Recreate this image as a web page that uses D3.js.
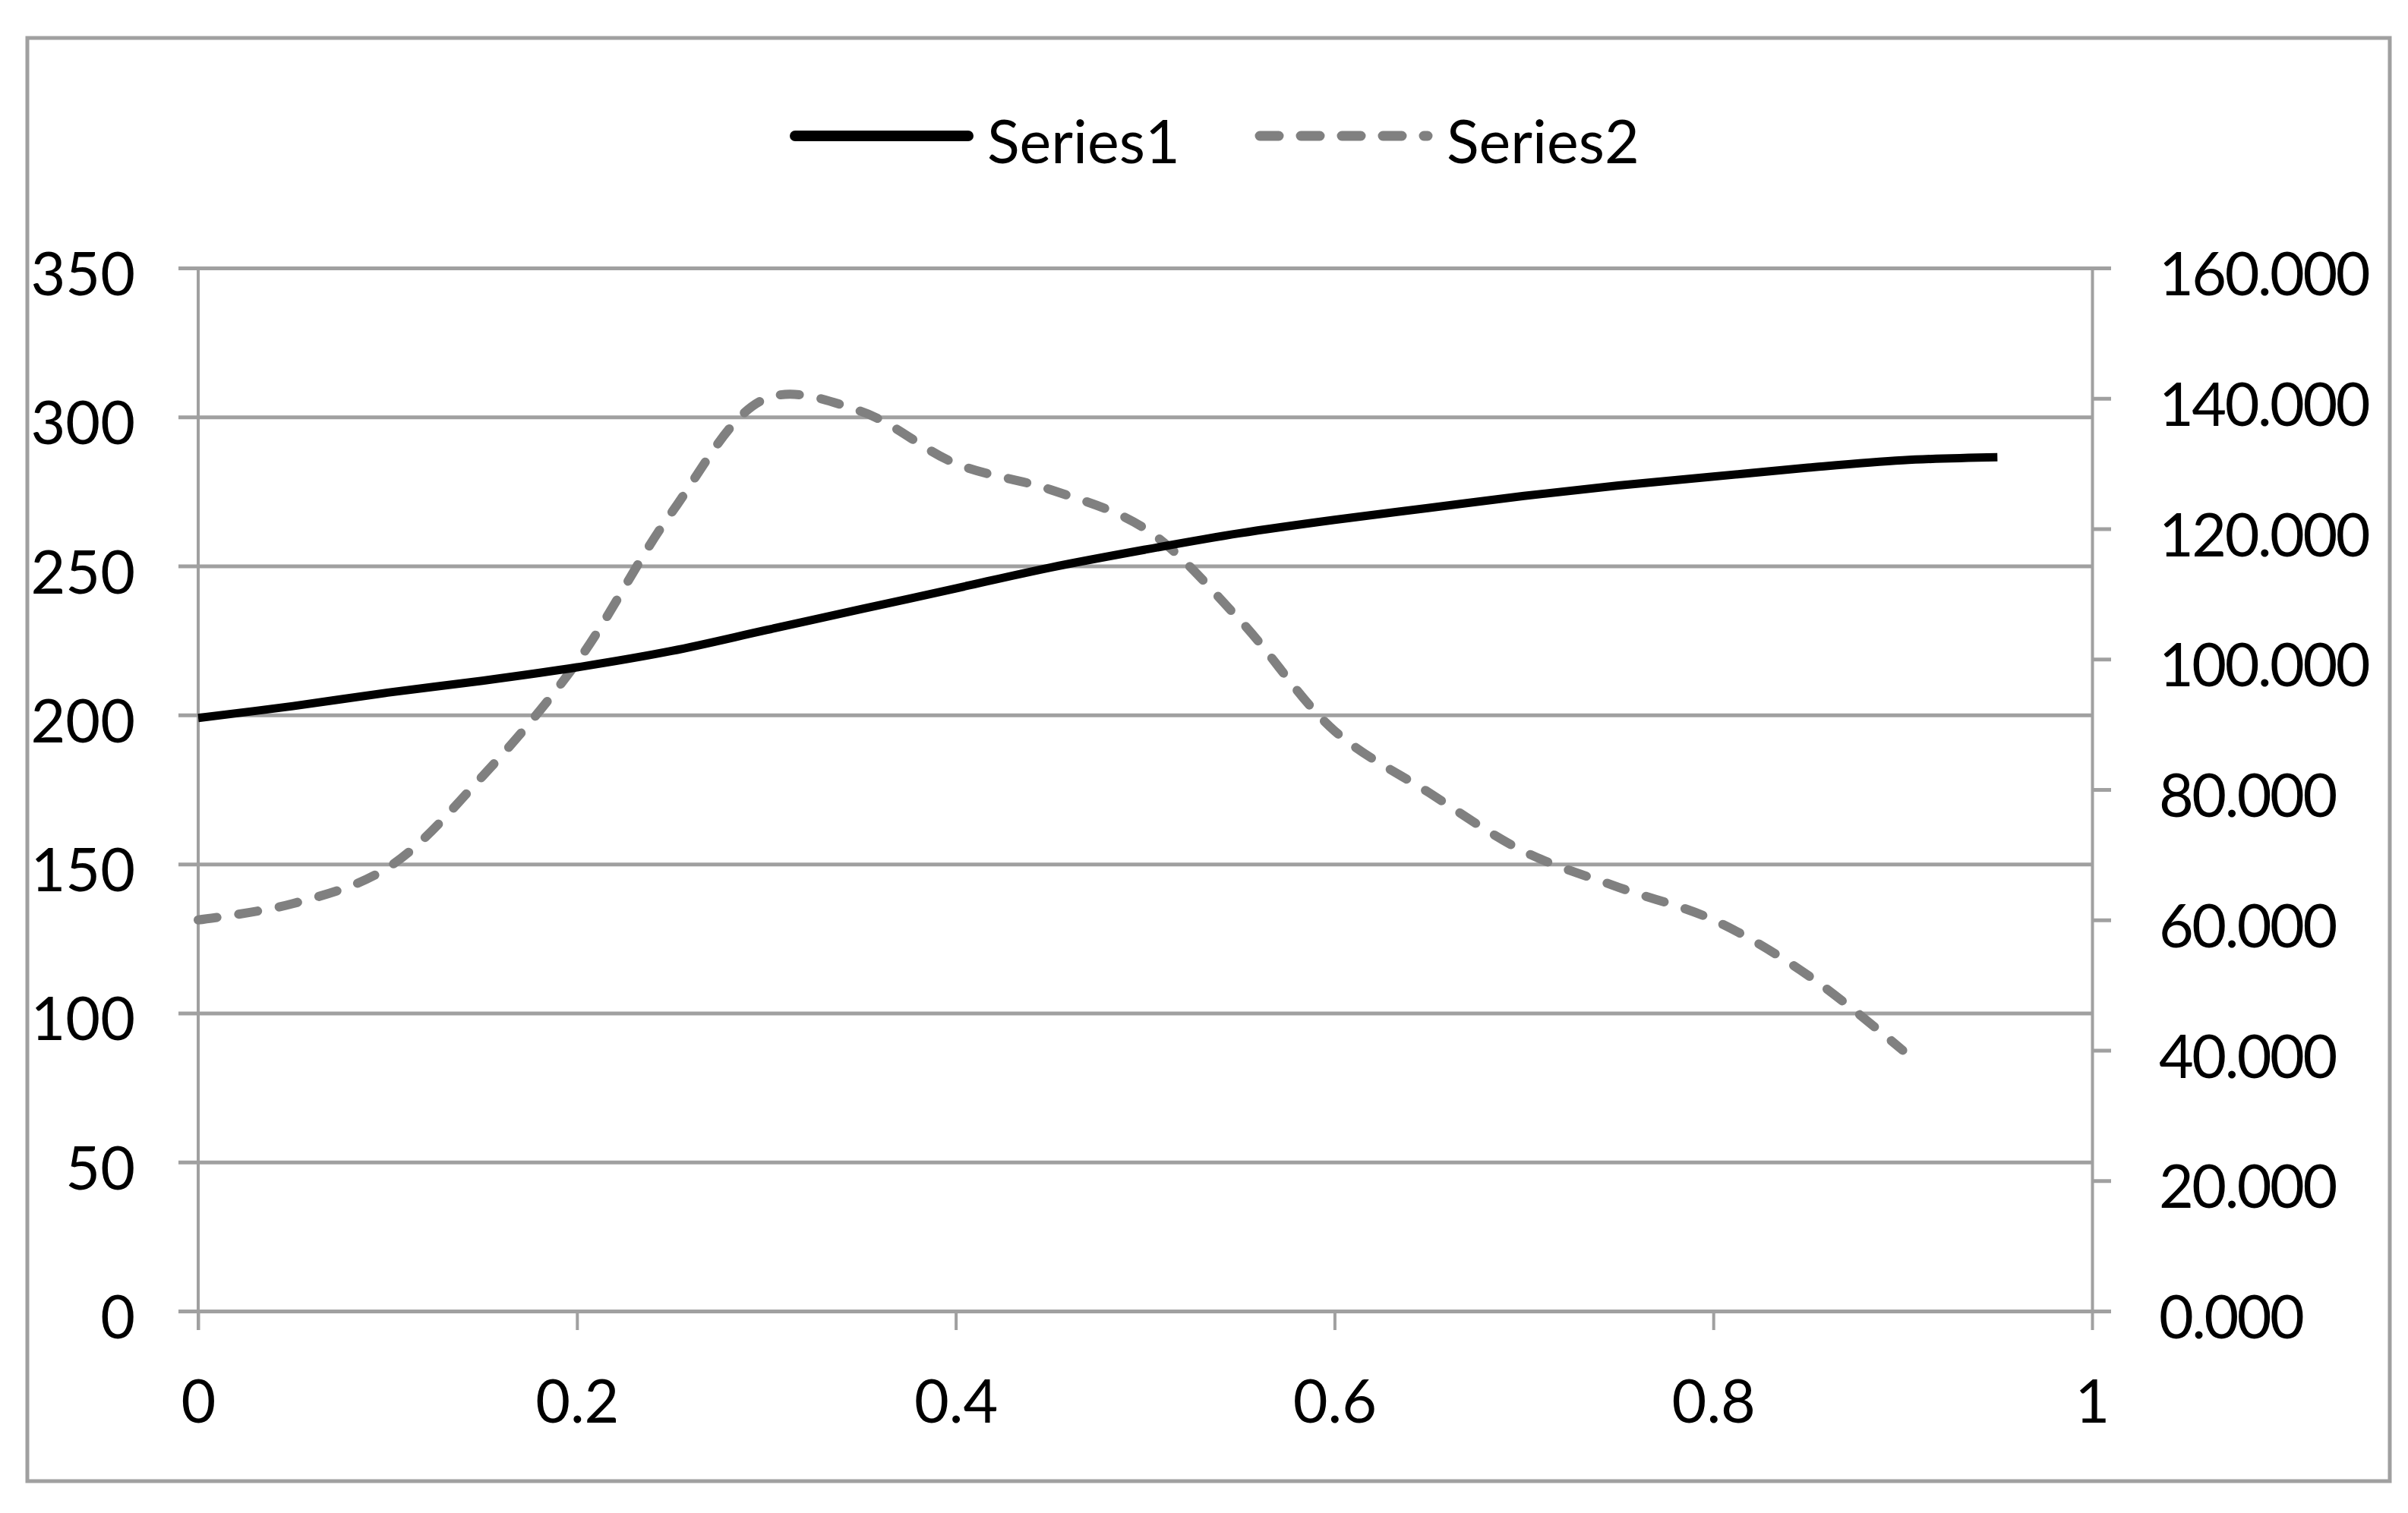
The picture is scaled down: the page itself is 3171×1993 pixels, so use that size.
<!DOCTYPE html>
<html>
<head>
<meta charset="utf-8">
<script src="https://cdn.jsdelivr.net/npm/d3@7"></script>
<style>
  body { margin: 0; background: #fff; }
  text { font-family: Lato, "Open Sans", sans-serif; fill: #000; }
</style>
</head>
<body>
<div id="chart"></div>
<script>
// Data
var xValues1 = [0, 0.05, 0.1, 0.15, 0.2, 0.25, 0.3, 0.35, 0.4, 0.45, 0.5, 0.55, 0.6, 0.65, 0.7, 0.75, 0.8, 0.85, 0.9, 0.95];
var series1 = [199, 203, 207.5, 211.5, 216, 221.5, 228.5, 235.5, 242.5, 249.5, 255.5, 261, 265.5, 269.5, 273.5, 277, 280, 283, 285.5, 286.5];
var xValues2 = [0, 0.05, 0.1, 0.15, 0.2, 0.25, 0.3, 0.35, 0.4, 0.45, 0.5, 0.55, 0.6, 0.65, 0.7, 0.75, 0.8, 0.85, 0.9];
var series2 = [60, 62.5, 68, 82, 99.5, 122.5, 140, 138, 130, 126, 120, 106, 89, 79.5, 70.5, 65, 60, 51.5, 40];
var seriesNames = ["Series1", "Series2"];
var leftTicks = [0, 50, 100, 150, 200, 250, 300, 350];
var rightTicks = [0, 20, 40, 60, 80, 100, 120, 140, 160];
var xTicks = [0, 0.2, 0.4, 0.6, 0.8, 1];

var width = 3171, height = 1993;
var margin = {left: 261, right: 3171 - 2755, top: 353, bottom: 1993 - 1727};
var gridColor = "#a0a0a0";
var fontSize = 79;

var svg = d3.select("#chart").append("svg")
    .attr("width", width)
    .attr("height", height);

// outer frame
svg.append("rect")
    .attr("x", 36).attr("y", 50)
    .attr("width", 3147 - 36).attr("height", 1951 - 50)
    .attr("fill", "#fff")
    .attr("stroke", gridColor)
    .attr("stroke-width", 5);

var x = d3.scaleLinear().domain([0, 1]).range([margin.left, width - margin.right]);
var yLeft = d3.scaleLinear().domain([0, 350]).range([height - margin.bottom, margin.top]);
var yRight = d3.scaleLinear().domain([0, 160]).range([height - margin.bottom, margin.top]);

// gridlines (extend outward as the left ticks)
svg.append("g")
    .attr("transform", "translate(" + margin.left + ",0)")
    .call(d3.axisLeft(yLeft).tickValues(leftTicks)
        .tickSize(-(x(1) - x(0)))
        .tickSizeOuter(0)
        .tickFormat(""))
    .call(function(g) {
        g.select(".domain").remove();
        g.selectAll(".tick line")
            .attr("x1", -26)
            .attr("stroke", gridColor)
            .attr("stroke-width", 5);
    });

// left axis
var leftAxis = svg.append("g")
    .attr("transform", "translate(" + margin.left + ",0)")
    .call(d3.axisLeft(yLeft).tickValues(leftTicks).tickSize(0).tickPadding(83));
leftAxis.select(".domain").remove();
leftAxis.selectAll("text")
    .attr("font-size", fontSize)
    .attr("dy", "0.45em");

svg.append("line")
    .attr("x1", x(0)).attr("x2", x(0))
    .attr("y1", yLeft(350)).attr("y2", yLeft(0) + 25)
    .attr("stroke", gridColor)
    .attr("stroke-width", 4);

// right axis
var rightAxis = svg.append("g")
    .attr("transform", "translate(" + x(1) + ",0)")
    .call(d3.axisRight(yRight).tickValues(rightTicks)
        .tickSize(25).tickSizeOuter(0).tickPadding(63)
        .tickFormat(d3.format(".3f")));
rightAxis.select(".domain")
    .attr("stroke", gridColor)
    .attr("stroke-width", 4);
rightAxis.selectAll(".tick line")
    .attr("stroke", gridColor)
    .attr("stroke-width", 5);
rightAxis.selectAll("text")
    .attr("font-size", fontSize)
    .attr("letter-spacing", -2.5)
    .attr("dy", "0.45em");

// bottom axis
var bottomAxis = svg.append("g")
    .attr("transform", "translate(0," + yLeft(0) + ")")
    .call(d3.axisBottom(x).tickValues(xTicks)
        .tickSize(25).tickSizeOuter(0).tickPadding(66)
        .tickFormat(d3.format("")));
bottomAxis.select(".domain").remove();
bottomAxis.selectAll(".tick line")
    .attr("stroke", gridColor)
    .attr("stroke-width", 4);
bottomAxis.selectAll("text")
    .attr("font-size", fontSize);

// lines
var line1 = d3.line()
    .x(function(d, i) { return x(xValues1[i]); })
    .y(function(d) { return yLeft(d); })
    .curve(d3.curveCatmullRom);
var line2 = d3.line()
    .x(function(d, i) { return x(xValues2[i]); })
    .y(function(d) { return yRight(d); })
    .curve(d3.curveCatmullRom);

svg.append("path")
    .datum(series2)
    .attr("d", line2)
    .attr("fill", "none")
    .attr("stroke", "#808080")
    .attr("stroke-width", 12)
    .attr("stroke-linecap", "round")
    .attr("stroke-dasharray", "25,29");

svg.append("path")
    .datum(series1)
    .attr("d", line1)
    .attr("fill", "none")
    .attr("stroke", "#000")
    .attr("stroke-width", 11)
    .attr("stroke-linejoin", "round");

// legend
var legend = svg.append("g");
var legendItems = [
    {name: seriesNames[0], x1: 1047, x2: 1275, color: "#000", dash: null, width: 14},
    {name: seriesNames[1], x1: 1659, x2: 1880, color: "#808080", dash: "25,29", width: 13}
];
legendItems.forEach(function(d) {
    legend.append("line")
        .attr("x1", d.x1).attr("x2", d.x2)
        .attr("y1", 179).attr("y2", 179)
        .attr("stroke", d.color)
        .attr("stroke-width", d.width)
        .attr("stroke-linecap", "round")
        .attr("stroke-dasharray", d.dash);
    legend.append("text")
        .attr("x", d.x2 + 25)
        .attr("y", 215)
        .attr("font-size", fontSize)
        .text(d.name);
});
</script>
</body>
</html>
